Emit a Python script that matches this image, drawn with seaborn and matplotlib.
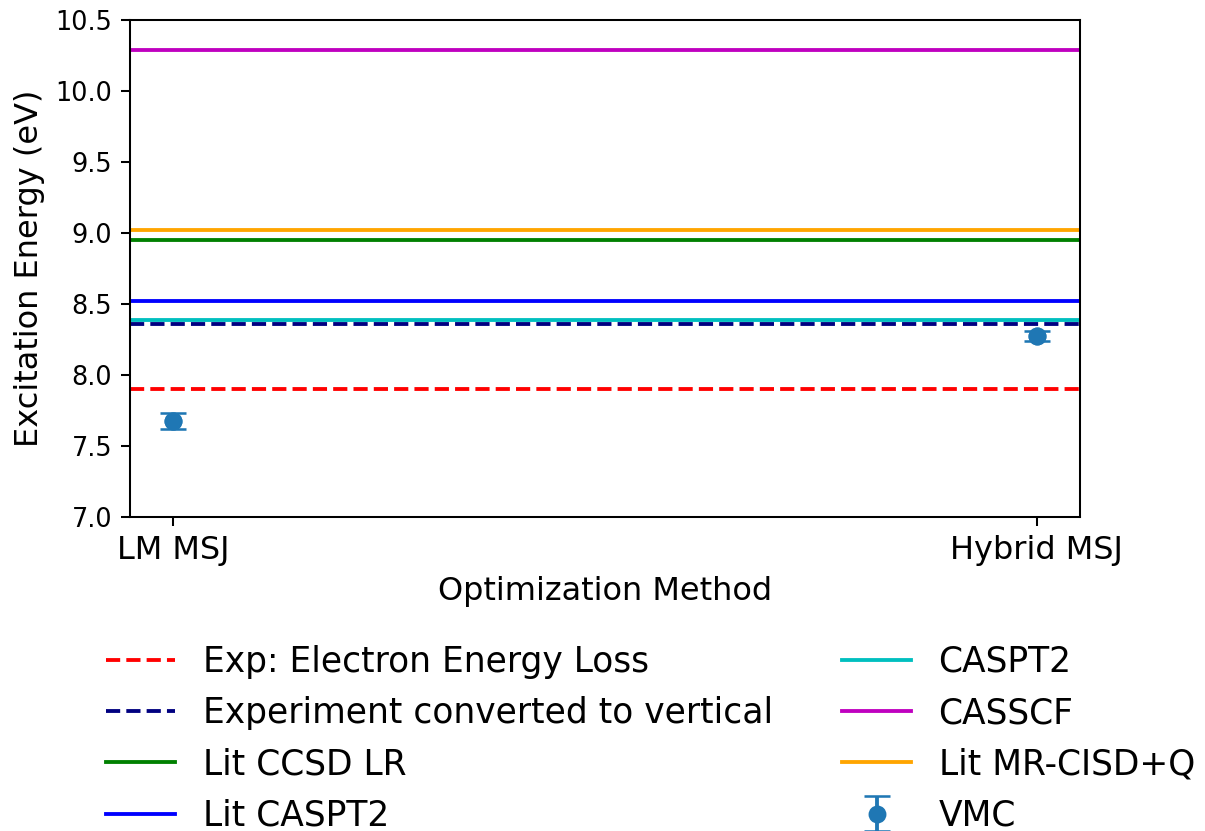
import numpy as np
import seaborn as sns
import matplotlib.pyplot as plt

methods = ["LM MSJ", "Hybrid MSJ"]
vmc_energy = [7.675, 8.275]
vmc_err = [0.055, 0.035]

ref_labels = ["Exp: Electron Energy Loss", "Experiment converted to vertical",
              "Lit CCSD LR", "Lit CASPT2", "CASPT2", "CASSCF", "Lit MR-CISD+Q"]
ref_values = [7.90, 8.36, 8.95, 8.52, 8.39, 10.29, 9.02]
ref_colors = ["r", "navy", "g", "b", "c", "m", "orange"]
ref_styles = ["--", "--", "-", "-", "-", "-", "-"]

fig = plt.figure(figsize=(1205 / 184, 831 / 184), dpi=184)
ax = fig.add_axes([0.1079, 0.378, 0.7884, 0.598])

for lab, val, col, ls in zip(ref_labels, ref_values, ref_colors, ref_styles):
    ax.axhline(val, color=col, linestyle=ls, linewidth=1.5, label=lab)

sns.scatterplot(x=methods, y=vmc_energy, ax=ax, color="C0", s=50, linewidth=0,
                legend=False, zorder=3)
ax.errorbar(methods, vmc_energy, yerr=vmc_err, fmt="o", color="C0", capsize=5, label="VMC")

ax.set_ylim(7.0, 10.5)
ax.set_xlabel("Optimization Method", fontsize=12.5)
ax.set_ylabel("Excitation Energy (eV)", fontsize=12.5)
ax.tick_params(axis="x", labelsize=12.5)
ax.tick_params(axis="y", labelsize=10)
ax.legend(loc="upper center", bbox_to_anchor=(0.548, -0.195), ncol=2, frameon=False,
          fontsize=13.5, columnspacing=2.0)

fig.savefig("out.png", dpi=184)
